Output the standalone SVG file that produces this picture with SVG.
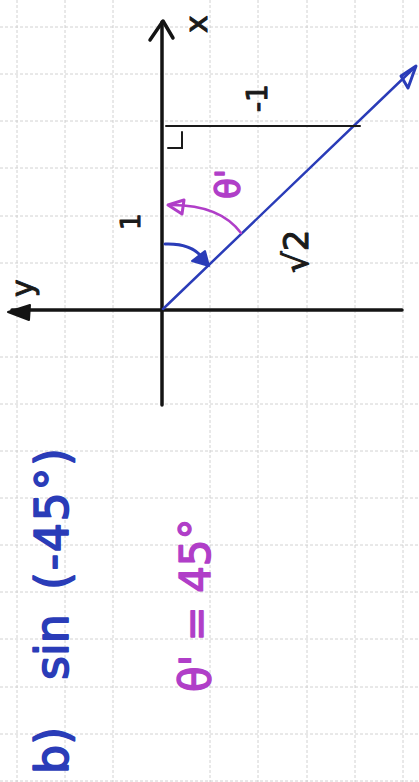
<svg xmlns="http://www.w3.org/2000/svg" width="419" height="782" viewBox="0 0 419 782">
<style>
.grid{stroke:#cdcdcd;stroke-width:0.9;stroke-dasharray:3 2;fill:none}
.ax{stroke:#141414;stroke-width:3.5;fill:none;stroke-linecap:round;stroke-linejoin:round}
.thin{stroke:#1a1a1a;stroke-width:2;fill:none;stroke-linecap:round}
.blue{stroke:#2a3cb8;fill:none;stroke-linecap:round;stroke-linejoin:round}
.purp{stroke:#b03ec8;fill:none;stroke-linecap:round;stroke-linejoin:round}
.t{font-family:"DejaVu Sans","Liberation Sans",sans-serif;stroke-width:1;stroke-linejoin:round}
.tk{fill:#1a1a1a;stroke:#1a1a1a}
.tb{fill:#2a3cb8;stroke:#2a3cb8;stroke-width:1.6}
.tp{fill:#b03ec8;stroke:#b03ec8;stroke-width:1.4}
</style>
<rect width="419" height="782" fill="#ffffff"/>
<g id="grid">
<path class="grid" d="M17,0V782M65,0V782M113,0V782M210,0V782M258,0V782M307,0V782M355,0V782M403,0V782"/>
<path class="grid" d="M0,27H419M0,74H419M0,121H419M0,168H419M0,216H419M0,263H419M0,357H419M0,404H419M0,451H419M0,498H419M0,545H419M0,592H419M0,639H419M0,687H419M0,734H419M0,781H419"/>
</g>
<g id="axes">
<path class="ax" d="M162,22V405"/>
<path class="ax" d="M150,40L163,21L173,38"/>
<path class="ax" d="M12,310H402"/>
<polygon points="8,312 30,305 29,320" fill="#141414" stroke="#141414" stroke-width="2" stroke-linejoin="round"/>
</g>
<g id="label-x"><text class="t tk" font-size="30" transform="rotate(-90)" x="-33" y="207">x</text></g>
<g id="label-y"><text class="t tk" font-size="30" transform="rotate(-90)" x="-297" y="33">y</text></g>
<g id="connectors">
<path class="blue" stroke-width="2.5" d="M163,309L413,69"/>
<path class="blue" stroke-width="3" d="M401,76L416,66L408,88Z"/>
<path class="thin" d="M166,126H360"/>
<path class="thin" d="M182,132V148H168"/>
<path class="purp" stroke-width="2.5" d="M241,233Q220,205 172,205"/>
<path class="purp" stroke-width="3" d="M168,205L184,200L182,214Z"/>
<path class="blue" stroke-width="3" d="M165,244Q193,243 203,259"/>
<polygon points="192,261 205,251 209,266" fill="#2a3cb8" stroke="#2a3cb8" stroke-width="2" stroke-linejoin="round"/>
</g>
<g id="label-minus1"><text class="t tk" font-size="28" transform="rotate(-90)" x="-112" y="267">-1</text></g>
<g id="label-1"><text class="t tk" font-size="26" transform="rotate(-90)" x="-230" y="140">1</text></g>
<g id="label-sqrt2"><text class="t tk" font-size="34" transform="rotate(-90)" x="-273" y="308">√2</text></g>
<g id="label-theta"><text class="t tp" font-size="34" transform="rotate(-90)" x="-199" y="240">θ'</text></g>
<g id="title"><text class="t tb" font-size="46" transform="rotate(-90)" y="68"><tspan x="-774">b)</tspan><tspan x="-680">sin</tspan><tspan x="-590" textLength="142">(-45°)</tspan></text></g>
<g id="result"><text class="t tp" font-size="42" transform="rotate(-90)" y="210"><tspan x="-692">θ' = 45°</tspan></text></g>
</svg>
